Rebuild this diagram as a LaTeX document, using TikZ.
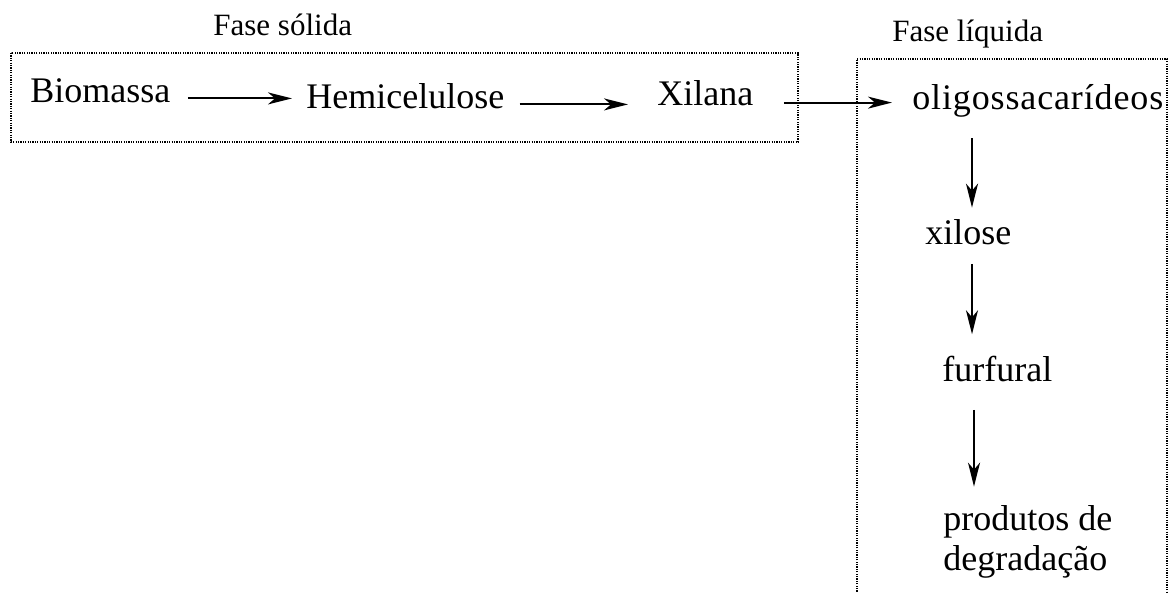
\documentclass[tikz,border=0pt]{standalone}
\usepackage{fontspec}
\setmainfont{Liberation Serif}
\usetikzlibrary{arrows.meta}
\tikzset{
  txt/.style={inner sep=0pt, anchor=base west, font=\fontsize{18pt}{20pt}\selectfont},
  lbl/.style={inner sep=0pt, anchor=base west, font=\fontsize{15.5pt}{17pt}\selectfont},
  arr/.style={line width=1pt, -{Stealth[length=12pt,width=6pt,inset=3.5pt]}},
  phase/.style={line width=0.7pt, dash pattern=on 0.6pt off 0.6pt},
}
\begin{document}
\begin{tikzpicture}[x=0.5pt,y=-0.5pt]
\useasboundingbox (0,0) rectangle (1173,593);
% phase boxes
\draw[phase] (11,53) rectangle (798,142);
\draw[phase] (857,594) -- (857,59) -- (1167,59) -- (1167,594);
\node[lbl] (fs) at (213,36) {Fase sólida};
\node[lbl] (fl) at (892,42) {Fase líquida};
% species
\node[txt] (bio)   at (30,103)  {Biomassa};
\node[txt] (hemi)  at (306,109) {Hemicelulose};
\node[txt] (xil)   at (657,106) {Xilana};
\node[txt, font=\fontsize{18pt}{20pt}\selectfont\addfontfeature{LetterSpace=2.4}] (oligo) at (912,110) {oligossacarídeos};
\node[txt] (xilose) at (925,245) {xilose};
\node[txt] (furf)  at (942,381) {furfural};
\node[txt] (prod1) at (943,530) {produtos de};
\node[txt] (prod2) at (943,570) {degradação};
% connectors
\coordinate (ax) at (972,0);
\coordinate (cx) at (974,0);
\draw[arr, shorten <=8.5pt, shorten >=7pt] (bio.mid east) -- (bio.mid east -| hemi.west);
\draw[arr, shorten <=7.5pt, shorten >=14.5pt] (hemi.mid east) -- (hemi.mid east -| xil.west);
\draw[arr, shorten <=15pt, shorten >=10pt] ([yshift=-0.6pt]xil.mid east) -- ([yshift=-0.6pt]xil.mid east -| oligo.west);
\draw[arr, shorten <=10pt, shorten >=6pt] (oligo.south -| ax) -- (xilose.north -| ax);
\draw[arr, shorten <=9pt, shorten >=10.5pt] (xilose.south -| ax) -- (furf.north -| ax);
\draw[arr, shorten <=14pt, shorten >=9pt] (furf.south -| cx) -- (prod1.north -| cx);
\end{tikzpicture}
\end{document}
